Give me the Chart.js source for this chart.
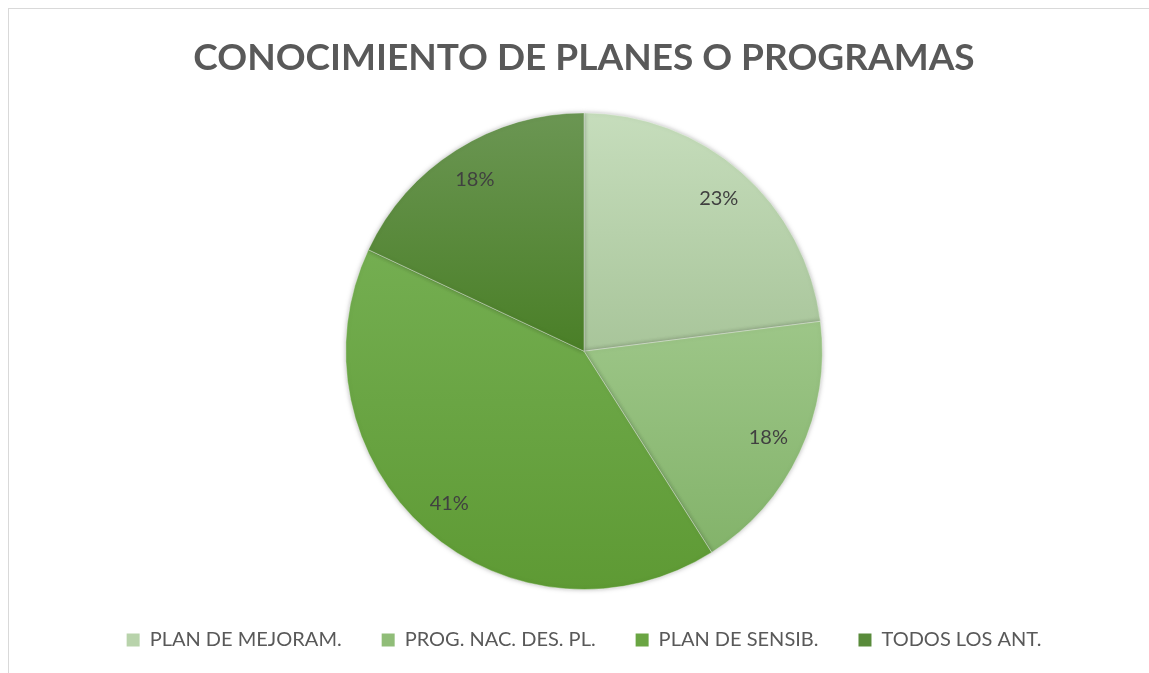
<!DOCTYPE html>
<html>
<head>
<meta charset="utf-8">
<script src="https://cdn.jsdelivr.net/npm/chart.js@4.4.1/dist/chart.umd.min.js"></script>
<style>
  html, body { margin: 0; padding: 0; background: #fff; overflow: hidden; }
  #frame { position: absolute; left: 8px; top: 8px; width: 1200px; height: 700px; border: 1px solid #d9d9d9; box-sizing: border-box; }
  #wrap { position: absolute; left: 0; top: 0; width: 1149px; height: 673px; }
</style>
</head>
<body>
<div id="frame"></div>
<div id="wrap"><canvas id="pieChart"></canvas></div>
<script>
const categories = ['PLAN DE MEJORAM.', 'PROG. NAC. DES. PL.', 'PLAN DE SENSIB.', 'TODOS LOS ANT.'];
const percentages = [23, 18, 41, 18];
const topColors = ['#c6ddbc', '#9dc688', '#74ae51', '#6b9653'];
const bottomColors = ['#a8c59a', '#83b36a', '#5e9a34', '#4a7f27'];
const solidColors = ['#b8d3ab', '#90bd78', '#6aa543', '#598b3b'];

const FONT = 'Lato, "Open Sans", sans-serif';

// gradiente vertical por porcion, segun su caja
function sliceGradient(context) {
    const chart = context.chart;
    const area = chart.chartArea;
    const i = context.dataIndex;
    if (!area || i === undefined) return solidColors[i] || solidColors[0];
    const cx = (area.left + area.right) / 2;
    const cy = (area.top + area.bottom) / 2;
    const r = Math.min(area.right - area.left, area.bottom - area.top) / 2;
    const total = percentages.reduce((a, b) => a + b, 0);
    let before = 0;
    for (let k = 0; k < i; k++) before += percentages[k];
    const a0 = -Math.PI / 2 + before / total * Math.PI * 2;
    const a1 = a0 + percentages[i] / total * Math.PI * 2;
    let ys = [cy, cy + r * Math.sin(a0), cy + r * Math.sin(a1)];
    [-Math.PI / 2, Math.PI / 2, Math.PI * 1.5].forEach(t => {
        if (t >= a0 && t <= a1) ys.push(cy + r * Math.sin(t));
    });
    const minY = Math.min(...ys), maxY = Math.max(...ys);
    const g = chart.ctx.createLinearGradient(0, minY, 0, maxY);
    g.addColorStop(0, topColors[i]);
    g.addColorStop(1, bottomColors[i]);
    return g;
}

// etiquetas de porcentaje dentro de cada porcion
const pctLabels = {
    id: 'pctLabels',
    afterDatasetsDraw(chart) {
        const ctx = chart.ctx;
        const meta = chart.getDatasetMeta(0);
        ctx.save();
        ctx.font = '20px ' + FONT;
        ctx.fillStyle = '#404040';
        ctx.textAlign = 'center';
        ctx.textBaseline = 'middle';
        meta.data.forEach((arc, i) => {
            const p = arc.getProps(['x', 'y', 'startAngle', 'endAngle', 'outerRadius'], true);
            const mid = (p.startAngle + p.endAngle) / 2;
            const d = p.outerRadius * 0.855;
            ctx.fillText(percentages[i] + '%', p.x + Math.cos(mid) * d, p.y + Math.sin(mid) * d);
        });
        ctx.restore();
    }
};

const pieShadow = {
    id: 'pieShadow',
    beforeDatasetsDraw(chart) {
        const ctx = chart.ctx;
        ctx.save();
        ctx.shadowColor = 'rgba(0,0,0,0.28)';
        ctx.shadowBlur = 5;
        ctx.shadowOffsetX = 0;
        ctx.shadowOffsetY = 0;
    },
    afterDatasetsDraw(chart) {
        chart.ctx.restore();
    }
};

new Chart(document.getElementById('pieChart'), {
    type: 'pie',
    data: {
        labels: categories,
        datasets: [{
            data: percentages,
            backgroundColor: sliceGradient,
            borderColor: 'rgba(255,255,255,0.35)',
            borderWidth: 1
        }]
    },
    options: {
        responsive: true,
        maintainAspectRatio: false,
        animation: false,
        layout: { padding: { top: 0, bottom: 13, left: 19, right: 0 } },
        plugins: {
            title: {
                display: true,
                text: 'CONOCIMIENTO DE PLANES O PROGRAMAS',
                color: '#595959',
                font: { family: FONT, size: 37, weight: 'bold' },
                padding: { top: 36, bottom: 32 }
            },
            legend: {
                position: 'bottom',
                labels: {
                    color: '#595959',
                    font: { family: FONT, size: 20 },
                    boxWidth: 13,
                    boxHeight: 13,
                    padding: 40,
                    generateLabels(chart) {
                        return categories.map((c, i) => ({
                            text: c,
                            fillStyle: solidColors[i],
                            strokeStyle: solidColors[i],
                            lineWidth: 0,
                            fontColor: '#595959',
                            index: i
                        }));
                    }
                }
            },
            tooltip: { enabled: false }
        }
    },
    plugins: [pieShadow, pctLabels]
});
</script>
</body>
</html>
